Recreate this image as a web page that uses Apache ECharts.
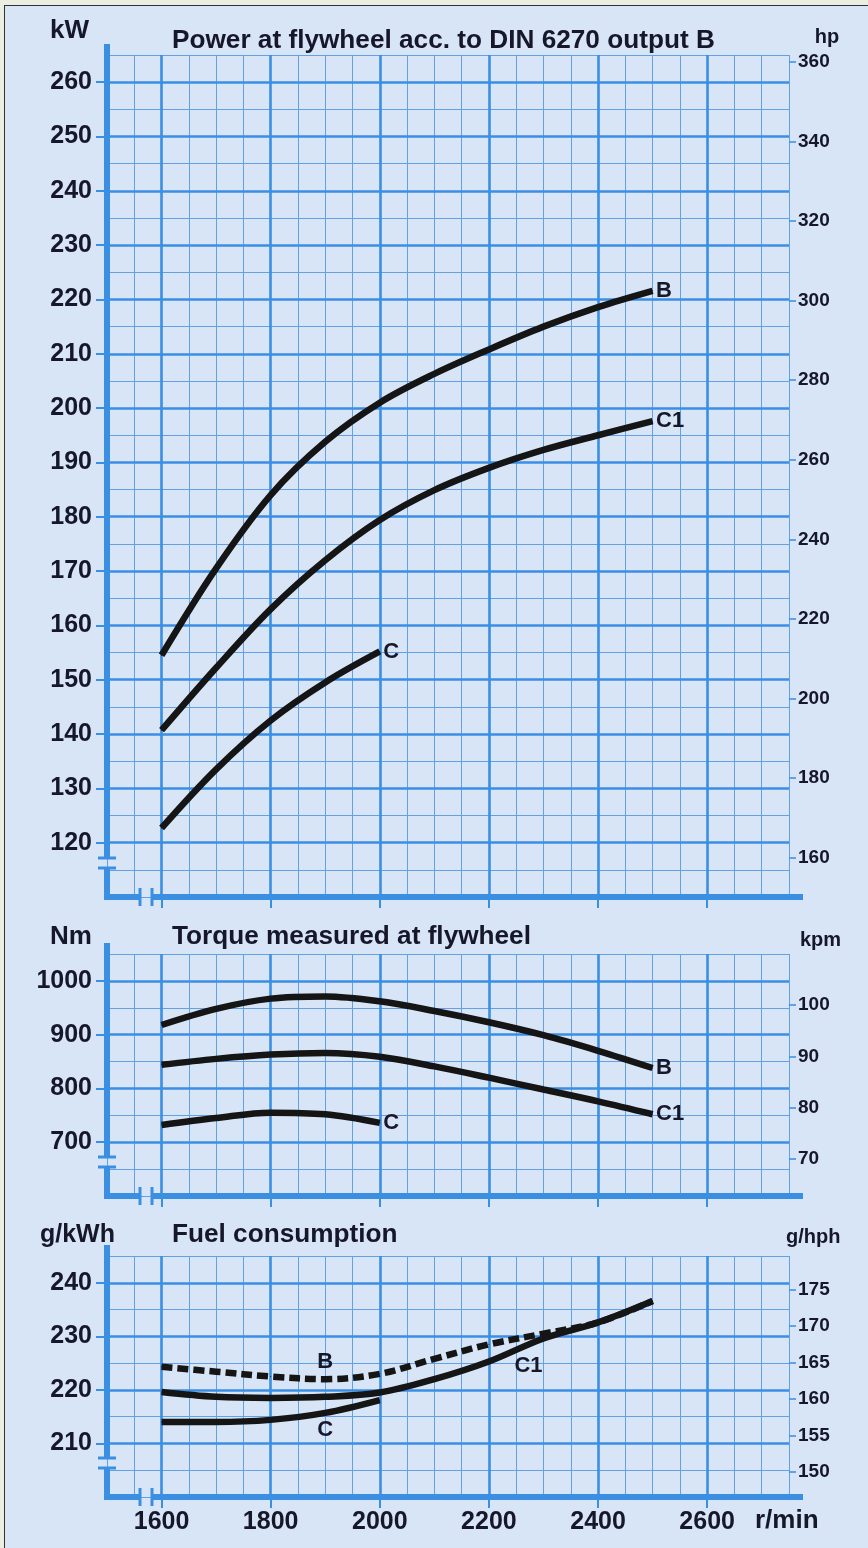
<!DOCTYPE html>
<html><head><meta charset="utf-8">
<script src="https://cdn.jsdelivr.net/npm/echarts@6/dist/echarts.min.js"></script>
<style>
html,body{margin:0;padding:0;background:#eceee2;}
#frame{position:absolute;left:4px;top:5px;width:870px;height:1550px;background:#d7e5f6;border-left:1.5px solid #333;border-top:1.5px solid #333;}
#c{position:absolute;left:0;top:0;width:868px;height:1548px;}
</style>
</head><body><div id="frame"></div><div id="c"></div>
<script>
// ---- data ----
const rpm  = [1600,1700,1800,1900,2000,2100,2200,2300,2400,2500];
const rpmC = [1600,1700,1800,1900,2000];
const powerB  = [154.5,170.5,184,193.8,201,206.3,210.8,215,218.6,221.6];
const powerC1 = [140.7,152.2,163,172,179.4,184.9,189,192.3,195.0,197.6];
const powerC  = [122.7,133.5,142.5,149.5,155.2];
const torqueB  = [918,948,967,971,962,944,923,899,870,838];
const torqueC1 = [844,855,863,866,859,841,820,798,776,752];
const torqueC  = [732,745,755,752,736];
const fuelB  = [224.3,223.4,222.5,222.0,223.0,225.8,228.5,230.5,232.6,236.6];
const fuelC1 = [219.6,218.7,218.5,218.7,219.5,222.0,225.3,229.6,232.6,236.6];
const fuelC  = [214.0,214.0,214.4,215.7,218.1];
// ---- ticks ----
const xTicks    = [1600,1800,2000,2200,2400,2600];
const kWTicks   = [120,130,140,150,160,170,180,190,200,210,220,230,240,250,260];
const hpTicks   = [160,180,200,220,240,260,280,300,320,340,360];
const NmTicks   = [700,800,900,1000];
const kpmTicks  = [70,80,90,100];
const gkWhTicks = [210,220,230,240];
const ghphTicks = [150,155,160,165,170,175];
// unit conversions for right axes (as drawn on the original)
const hpPerKW = 1.365, kpmPerNm = 1/9.55, ghphPerGkWh = 0.733;

const X_MIN = 1500, X_MAX = 2750;
const ranges = [[110,265,5],[600,1050,50],[200,245,5]];
const factors = [hpPerKW, kpmPerNm, ghphPerGkWh];
const leftTicks = [kWTicks, NmTicks, gkWhTicks];
const rightTicks = [hpTicks, kpmTicks, ghphTicks];

const FONT = '"Liberation Sans", Arial, Helvetica, sans-serif';
const TXT = '#17172a';
const MAJOR = '#3a8ee4';
const MINOR = '#62a1e6';
const AX = '#3a8fe3';
const INK = '#151515';
const plain = v => String(v);

const chart = echarts.init(document.getElementById('c'), null, {renderer:'canvas'});

const grids = [
  {left:107, right:79, top:55, height:842},
  {left:107, right:79, top:954, height:242},
  {left:107, right:79, top:1256, height:241}
];

const xAxes = [];
grids.forEach((g, gi) => {
  xAxes.push({
    type:'value', gridIndex:gi, position:'bottom', min:X_MIN, max:X_MAX, interval:50,
    axisLine:{show:false}, axisTick:{show:false}, axisLabel:{show:false},
    splitLine:{show:true, lineStyle:{color:MINOR, width:1}}
  });
  xAxes.push({
    type:'value', gridIndex:gi, position:'bottom', min:X_MIN, max:X_MAX,
    axisLine:{show:false},
    axisTick:{show:true, customValues:xTicks, length:11, lineStyle:{color:AX, width:2}},
    axisLabel:{show: gi===2, customValues:xTicks, formatter:plain, fontSize:25, fontWeight:'bold', fontFamily:FONT, color:TXT, margin:13},
    splitLine:{show:false}
  });
});

const yAxes = [];
grids.forEach((g, gi) => {
  const [mn, mx, iv] = ranges[gi];
  yAxes.push({
    type:'value', gridIndex:gi, position:'left', min:mn, max:mx, interval:iv,
    axisLine:{show:false}, axisTick:{show:false}, axisLabel:{show:false},
    splitLine:{show:true, lineStyle:{color:MINOR, width:1}}
  });
  yAxes.push({
    type:'value', gridIndex:gi, position:'left', min:mn, max:mx,
    axisLine:{show:false},
    axisTick:{show:true, customValues:leftTicks[gi], length:11, lineStyle:{color:AX, width:2}},
    axisLabel:{customValues:leftTicks[gi], formatter:plain, fontSize:25, fontWeight:'bold', fontFamily:FONT, color:TXT, margin:15},
    splitLine:{show:false}
  });
  yAxes.push({
    type:'value', gridIndex:gi, position:'right', min:mn*factors[gi], max:mx*factors[gi],
    axisLine:{show:false},
    axisTick:{show:true, customValues:rightTicks[gi], length:7, lineStyle:{color:AX, width:1.5}},
    axisLabel:{customValues:rightTicks[gi], formatter:plain, fontSize:19, fontWeight:'bold', fontFamily:FONT, color:TXT, margin:9},
    splitLine:{show:false}
  });
});

const labelStyle = {fontSize:22, fontWeight:'bold', fontFamily:FONT, color:TXT};

function curve(xs, ys, gi, labels, dashed) {
  return {
    type:'line', xAxisIndex:gi*2, yAxisIndex:gi*3, z:5, silent:true,
    smooth:0.35, symbol:'circle', symbolSize:1, showSymbol:true,
    lineStyle:{color:INK, width:6.5, type: dashed ? [11,5] : 'solid', cap:'butt'},
    itemStyle:{color:INK},
    label:{show:false},
    data: xs.map((x, i) => {
      const it = {value:[x, ys[i]]};
      if (labels[i]) it.label = Object.assign({show:true}, labelStyle, labels[i]);
      return it;
    })
  };
}

const majorY = [kWTicks, NmTicks, gkWhTicks];
const helpers = grids.map((g, gi) => ({
  type:'line', xAxisIndex:gi*2, yAxisIndex:gi*3, z:1, silent:true, data:[],
  markLine:{
    silent:true, symbol:'none', label:{show:false}, animation:false,
    lineStyle:{color:MAJOR, width:2.6, type:'solid'},
    emphasis:{disabled:true},
    data: xTicks.map(v => ({xAxis:v})).concat(majorY[gi].map(v => ({yAxis:v})))
  }
}));

const endR = (t) => ({formatter:t, position:'right', distance:3});

const series = helpers.concat([
  curve(rpm,  powerB,  0, {9:endR('B')}),
  curve(rpm,  powerC1, 0, {9:endR('C1')}),
  curve(rpmC, powerC,  0, {4:endR('C')}),
  curve(rpm,  torqueB,  1, {9:endR('B')}),
  curve(rpm,  torqueC1, 1, {9:endR('C1')}),
  curve(rpmC, torqueC,  1, {4:endR('C')}),
  curve(rpm,  fuelB,  2, {3:{formatter:'B', position:'top', distance:6}}, true),
  curve(rpm,  fuelC1, 2, {7:{formatter:'C1', position:'bottom', distance:16, offset:[-15,0]}}),
  curve(rpmC, fuelC,  2, {3:{formatter:'C', position:'bottom', distance:6}})
]);

chart.setOption({
  backgroundColor:'transparent',
  animation:false,
  grid: grids,
  xAxis: xAxes,
  yAxis: yAxes,
  series: series
});

// ---- decorations: axis lines with break marks, texts ----
const gfx = [];
function line(x1,y1,x2,y2,w){ gfx.push({type:'line', silent:true, z:10, shape:{x1,y1,x2,y2}, style:{stroke:AX, lineWidth:w, lineCap:'butt'}}); }
function text(t, x, y, size, align){ gfx.push({type:'text', silent:true, z:10, x, y, style:{text:t, fontSize:size, fontWeight:'bold', fontFamily:FONT, fill:TXT, textAlign:align||'left', textVerticalAlign:'middle'}}); }

grids.forEach((g, gi) => {
  const [mn, mx] = ranges[gi];
  const [x0, y0] = chart.convertToPixel({gridIndex:gi}, [X_MIN, mn]);
  const yTop = chart.convertToPixel({gridIndex:gi}, [X_MIN, mx])[1];
  const xRight = chart.convertToPixel({gridIndex:gi}, [X_MAX, mn])[0];
  line(x0, yTop-11, x0, y0-39, 6);
  line(x0, y0-29, x0, y0+3, 6);
  line(x0-3, y0, x0+33, y0, 6);
  line(x0+45, y0, xRight+14, y0, 6);
  line(x0-9, y0-39, x0+9, y0-39, 3);
  line(x0-9, y0-29, x0+9, y0-29, 3);
  line(x0+33, y0-9, x0+33, y0+9, 3);
  line(x0+45, y0-9, x0+45, y0+9, 3);
});

text('kW', 50, 31, 26);
text('Power at flywheel acc. to DIN 6270 output B', 172, 41, 26.2);
text('hp', 827, 37, 20, 'center');
text('Nm', 50, 937, 26);
text('Torque measured at flywheel', 172, 937, 26.2);
text('kpm', 800, 940, 20);
text('g/kWh', 40, 1235, 25);
text('Fuel consumption', 172, 1235, 26.2);
text('g/hph', 786, 1237, 20);
const xr = chart.convertToPixel({gridIndex:2}, [X_MAX, ranges[2][0]]);
text('r/min', xr[0]-34, 1521, 26);

chart.setOption({graphic: gfx});
</script>
</body></html>
